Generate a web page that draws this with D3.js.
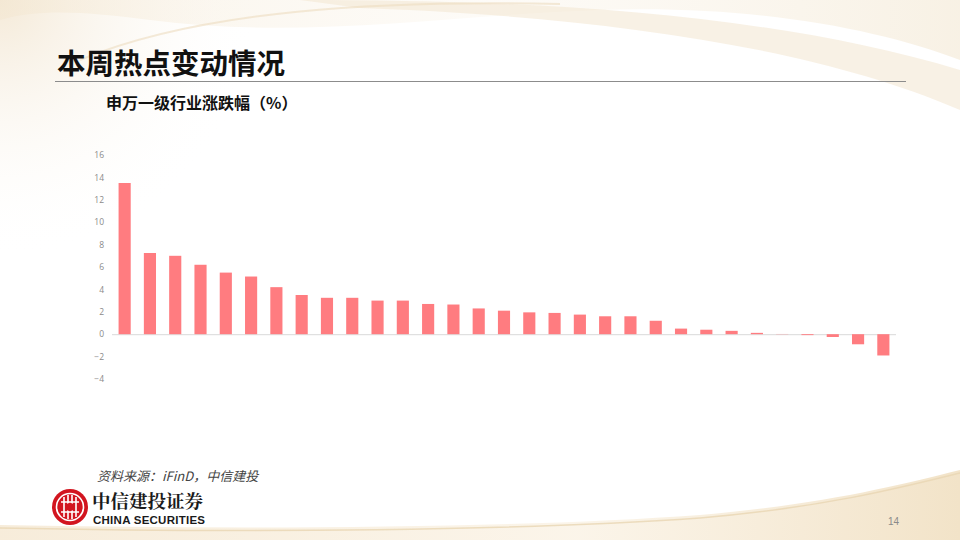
<!DOCTYPE html>
<html>
<head>
<meta charset="utf-8">
<script src="https://cdn.jsdelivr.net/npm/d3@7/dist/d3.min.js"></script>
<style>
  html, body { margin: 0; padding: 0; background: #fff; }
  svg { display: block; }
</style>
</head>
<body>
<svg id="chart" width="960" height="540"></svg>
<script>
// ---- data ----
const categories = ["1","2","3","4","5","6","7","8","9","10","11","12","13","14","15","16",
                    "17","18","19","20","21","22","23","24","25","26","27","28","29","30","31"];
const values = [13.5, 7.25, 7.0, 6.2, 5.5, 5.15, 4.2, 3.5, 3.25, 3.25, 3.0, 3.0, 2.7, 2.65, 2.3, 2.1,
                1.95, 1.9, 1.75, 1.6, 1.6, 1.2, 0.5, 0.4, 0.3, 0.12, 0.02, -0.08, -0.25, -0.9, -1.9];
const yTicks = [16, 14, 12, 10, 8, 6, 4, 2, 0, -2, -4];
const titleText = "本周热点变动情况";
const subtitleText = "申万一级行业涨跌幅（%）";
const sourceText = "资料来源：iFinD，中信建投";
const pageNumber = "14";

const svg = d3.select("#chart");
const defs = svg.append("defs");

// ---- background decoration ----
const gTop = defs.append("linearGradient").attr("id", "gTop").attr("x1", "0").attr("y1", "0").attr("x2", "1").attr("y2", "0");
gTop.append("stop").attr("offset", "0").attr("stop-color", "#f3e6cf").attr("stop-opacity", 0.9);
gTop.append("stop").attr("offset", "0.5").attr("stop-color", "#f8efe0").attr("stop-opacity", 0.5);
gTop.append("stop").attr("offset", "1").attr("stop-color", "#efe0c4").attr("stop-opacity", 0.9);

const gBot = defs.append("linearGradient").attr("id", "gBot").attr("x1", "0").attr("y1", "0").attr("x2", "1").attr("y2", "0");
gBot.append("stop").attr("offset", "0").attr("stop-color", "#f6ead6").attr("stop-opacity", 0.9);
gBot.append("stop").attr("offset", "0.6").attr("stop-color", "#faf2e4").attr("stop-opacity", 0.8);
gBot.append("stop").attr("offset", "1").attr("stop-color", "#f2e3c8").attr("stop-opacity", 1);

const gLeft = defs.append("radialGradient").attr("id", "gLeft").attr("cx", "0").attr("cy", "0").attr("r", "1");
gLeft.append("stop").attr("offset", "0").attr("stop-color", "#f3e7d3").attr("stop-opacity", 0.9);
gLeft.append("stop").attr("offset", "1").attr("stop-color", "#ffffff").attr("stop-opacity", 0);

const bg = svg.append("g");
bg.append("rect").attr("width", 960).attr("height", 540).attr("fill", "#fff");
bg.append("rect").attr("x", 0).attr("y", 0).attr("width", 260).attr("height", 260).attr("fill", "url(#gLeft)");
bg.append("path")
  .attr("d", "M0,0 L960,0 L960,60 C880,30 760,5 600,10 C450,15 300,40 150,20 C90,12 40,8 0,20 Z")
  .attr("fill", "url(#gTop)").attr("opacity", 0.5);
bg.append("path")
  .attr("d", "M300,0 C520,0 760,10 960,70 L960,110 C800,40 560,15 360,8 Z")
  .attr("fill", "#f4e8d4").attr("opacity", 0.6);
bg.append("path")
  .attr("d", "M80,60 C200,10 380,0 560,4")
  .attr("fill", "none").attr("stroke", "#ecdcbf").attr("stroke-width", 2).attr("opacity", 0.6);
bg.append("path")
  .attr("d", "M0,540 L0,525 C250,530 520,528 700,515 C820,505 900,485 960,470 L960,540 Z")
  .attr("fill", "url(#gBot)");
bg.append("path")
  .attr("d", "M0,528 C250,533 520,531 700,518 C820,508 900,488 960,473")
  .attr("fill", "none").attr("stroke", "#e9d6b3").attr("stroke-width", 1.5).attr("opacity", 0.8);

// ---- title ----
svg.append("text")
  .attr("x", 57).attr("y", 74)
  .attr("font-family", "'Noto Sans CJK SC', sans-serif")
  .attr("font-weight", 700).attr("font-size", 28.5)
  .attr("fill", "#111")
  .text(titleText);
svg.append("line")
  .attr("x1", 55).attr("x2", 906).attr("y1", 81.5).attr("y2", 81.5)
  .attr("stroke", "#8c8c8c").attr("stroke-width", 1);

svg.append("text")
  .attr("x", 106).attr("y", 109)
  .attr("font-family", "'Noto Sans CJK SC', sans-serif")
  .attr("font-weight", 700).attr("font-size", 16)
  .attr("fill", "#111")
  .text(subtitleText);

// ---- chart ----
const x = d3.scaleBand().domain(categories).range([112, 896]).paddingInner(0.52).paddingOuter(0.26);
const y = d3.scaleLinear().domain([-4, 16]).range([379, 155]);

const yAxis = d3.axisLeft(y).tickValues(yTicks).tickSize(0).tickPadding(0)
  .tickFormat(d => d < 0 ? "\u2212" + Math.abs(d) : String(d));
const ya = svg.append("g").attr("transform", "translate(104,0)").call(yAxis);
ya.select(".domain").remove();
ya.selectAll("text")
  .attr("font-family", "'Open Sans', 'DejaVu Sans', sans-serif")
  .attr("font-size", 8.5).attr("fill", "#8a8a8a");

svg.append("line")
  .attr("x1", 112).attr("x2", 896).attr("y1", y(0) + 0.5).attr("y2", y(0) + 0.5)
  .attr("stroke", "#d9d9d9").attr("stroke-width", 1);

svg.append("g").selectAll("rect")
  .data(values)
  .join("rect")
  .attr("x", (d, i) => x(categories[i]))
  .attr("width", x.bandwidth())
  .attr("y", d => y(Math.max(0, d)))
  .attr("height", d => Math.abs(y(d) - y(0)))
  .attr("fill", "#ff7c80");

// ---- source ----
svg.append("text")
  .attr("x", 97).attr("y", 481)
  .attr("font-family", "'Noto Sans CJK SC', sans-serif")
  .attr("font-style", "italic").attr("font-size", 13)
  .attr("fill", "#444")
  .text(sourceText);

// ---- logo ----
const logo = svg.append("g").attr("transform", "translate(70,507)");
logo.append("circle").attr("r", 18).attr("fill", "#d2151f");
logo.append("circle").attr("r", 13.5).attr("fill", "none").attr("stroke", "#fff").attr("stroke-width", 1.6);
logo.append("path")
  .attr("d", "M-9,-5 L9,-5 M-9,5 L9,5 M-6,-10 L-6,10 M-2,-12 L-2,12 M2,-12 L2,12 M6,-10 L6,10")
  .attr("stroke", "#fff").attr("stroke-width", 1.6).attr("fill", "none");
logo.append("circle").attr("r", 4).attr("fill", "#d2151f");
svg.append("text")
  .attr("x", 92).attr("y", 508)
  .attr("font-family", "'Noto Serif CJK SC', 'Noto Sans CJK SC', serif")
  .attr("font-weight", 700).attr("font-size", 18.5)
  .attr("fill", "#1a1a1a")
  .text("中信建投证券");
svg.append("text")
  .attr("x", 93).attr("y", 524)
  .attr("font-family", "'Liberation Sans', Arial, sans-serif")
  .attr("font-weight", 700).attr("font-size", 11.5)
  .attr("fill", "#1a1a1a")
  .attr("textLength", 112)
  .text("CHINA SECURITIES");

// ---- page number ----
svg.append("text")
  .attr("x", 899).attr("y", 525)
  .attr("text-anchor", "end")
  .attr("font-family", "'Liberation Sans', Arial, sans-serif")
  .attr("font-size", 10).attr("fill", "#8a8a8a")
  .text(pageNumber);
</script>
</body>
</html>
